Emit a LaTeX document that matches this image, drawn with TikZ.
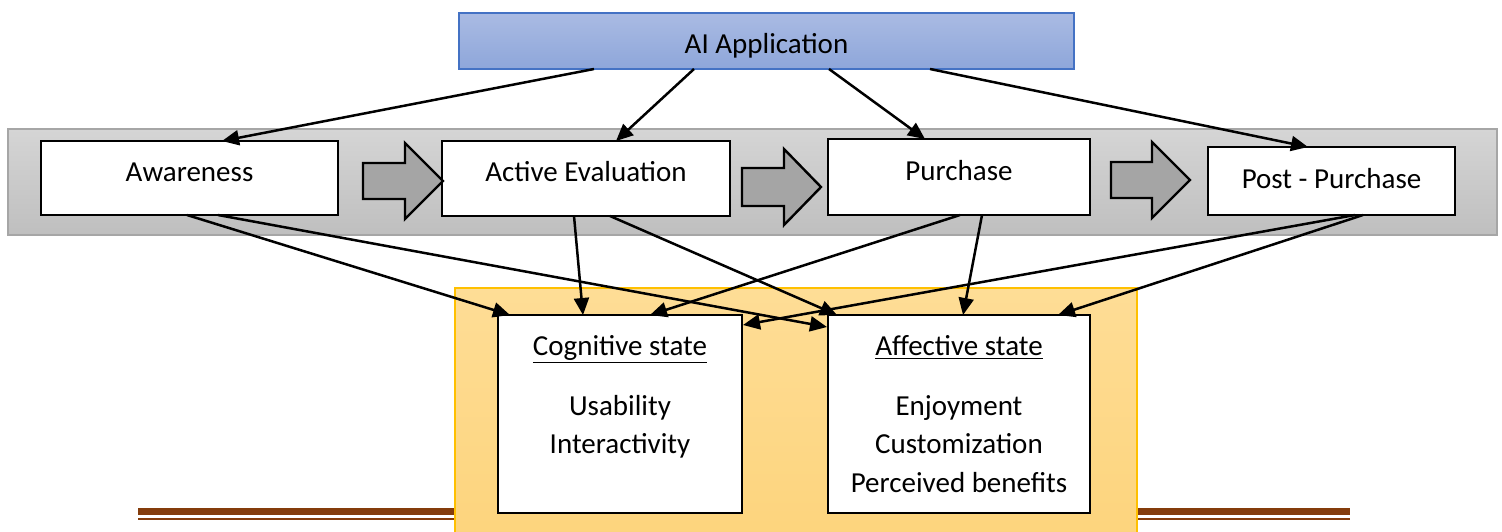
\documentclass[tikz,border=0pt]{standalone}
\usepackage{fontspec}
\setmainfont{Carlito}
\usetikzlibrary{arrows.meta,calc}
\definecolor{aitop}{HTML}{AABBE3}
\definecolor{aibot}{HTML}{8EA6DA}
\definecolor{aiborder}{HTML}{4472C4}
\definecolor{bandtop}{HTML}{D5D5D5}
\definecolor{bandbot}{HTML}{BFBFBF}
\definecolor{bandborder}{HTML}{A6A6A6}
\definecolor{ortop}{HTML}{FEDD96}
\definecolor{orbot}{HTML}{FDD47C}
\definecolor{orborder}{HTML}{FFC000}
\definecolor{brown}{HTML}{843C0C}
\definecolor{blockfill}{HTML}{A5A5A5}
\tikzset{
  stagebox/.style={draw=black, line width=1.3pt, fill=white, inner sep=0pt, outer sep=0pt},
  txt/.style={inner sep=0pt, outer sep=0pt, anchor=base, font=\fontsize{14.5pt}{19.25pt}\selectfont},
  conn/.style={-{Triangle[length=8.5pt,width=7.5pt]}, line width=1.25pt, draw=black},
  blockarrow/.style={draw=black, line width=1.2pt, fill=blockfill, line join=miter},
}
\begin{document}
\begin{tikzpicture}[x=0.5pt,y=-0.5pt]
\useasboundingbox (0,0) rectangle (1502,531);
\clip (0,0) rectangle (1502,531);
% brown rule lines
\draw[brown, line width=3.5pt] (138,511.5) -- (1350,511.5);
\draw[brown, line width=1pt] (138,519) -- (1350,519);
% orange background (runs off the bottom edge)
\node[draw=orborder, line width=0.6pt, top color=ortop, bottom color=orbot, inner sep=0pt, outer sep=0pt,
      minimum width=341pt, minimum height=128.5pt] (orange) at (796,416.5) {};
% grey band
\node[draw=bandborder, line width=0.6pt, top color=bandtop, bottom color=bandbot, inner sep=0pt, outer sep=0pt,
      minimum width=744.5pt, minimum height=53pt] (band) at (752.5,182) {};
% AI Application
\node[draw=aiborder, line width=0.6pt, top color=aitop, bottom color=aibot, inner sep=0pt, outer sep=0pt,
      minimum width=307.5pt, minimum height=28pt] (ai) at (766.5,41) {};
\node[txt] (ait) at (766.5,53) {AI Application};
% stage boxes
\node[stagebox, minimum width=148.5pt, minimum height=37pt] (aw) at (189.5,178) {};
\node[txt] (awt) at (189.5,181) {Awareness};
\node[stagebox, minimum width=144pt, minimum height=37.5pt] (ae) at (586,178.5) {};
\node[txt] (aet) at (586,181) {Active Evaluation};
\node[stagebox, minimum width=131pt, minimum height=38pt] (pu) at (959,177) {};
\node[txt] (put) at (959,180) {Purchase};
\node[stagebox, minimum width=123.5pt, minimum height=34pt] (pp) at (1331.5,181) {};
\node[txt] (ppt) at (1331.5,188) {Post - Purchase};
% block arrows
\draw[blockarrow] (363,163) -- (405,163) -- (405,143) -- (443,181) -- (405,219) -- (405,199) -- (363,199) -- cycle;
\draw[blockarrow] (742,168) -- (784,168) -- (784,149) -- (821,187) -- (784,225) -- (784,206) -- (742,206) -- cycle;
\draw[blockarrow] (1111,162) -- (1152,162) -- (1152,142) -- (1190,180) -- (1152,218) -- (1152,198) -- (1111,198) -- cycle;
% state boxes
\node[stagebox, minimum width=122pt, minimum height=99pt] (cog) at (620,414) {};
\node[txt] (cogh) at (620,355) {\underline{Cognitive state}};
\node[txt] (cog1) at (620,415) {Usability};
\node[txt] (cog2) at (620,453) {Interactivity};
\node[stagebox, minimum width=131pt, minimum height=99pt] (aff) at (959,414) {};
\node[txt] (affh) at (959,355) {\underline{Affective state}};
\node[txt] (aff1) at (959,415) {Enjoyment};
\node[txt] (aff2) at (959,453) {Customization};
\node[txt] (aff3) at (959,492) {Perceived benefits};
% connectors from AI Application
\draw[conn] ($(ai.south)+(-172.5,0)$) -- ($(aw.north)+(32.5,0)$);
\draw[conn] ($(ai.south)+(-72.5,0)$) -- ($(ae.north)+(30,0)$);
\draw[conn] ($(ai.south)+(62.5,0)$) -- ($(pu.north)+(-34,0)$);
\draw[conn] ($(ai.south)+(163.5,0)$) -- ($(pp.north)+(-23.5,0)$);
% connectors to states
\draw[conn] ($(aw.south)+(-2.5,0)$) -- ($(cog.north)+(-110,0)$);
\draw[conn] ($(aw.south)+(28.5,0)$) -- ($(aff.north west)+(-1,12)$);
\draw[conn] ($(ae.south)+(-12,0)$) -- ($(cog.north)+(-37,0)$);
\draw[conn] ($(ae.south)+(24,0)$) -- ($(aff.north)+(-122,0)$);
\draw[conn] ($(pu.south)+(1,0)$) -- ($(cog.north)+(30,0)$);
\draw[conn] ($(pu.south)+(23,0)$) -- ($(aff.north)+(4,0)$);
\draw[conn] ($(pp.south)+(23.5,0)$) -- ($(cog.north east)+(1,10)$);
\draw[conn] ($(pp.south)+(31.5,0)$) -- ($(aff.north)+(99,0)$);
\end{tikzpicture}
\end{document}
